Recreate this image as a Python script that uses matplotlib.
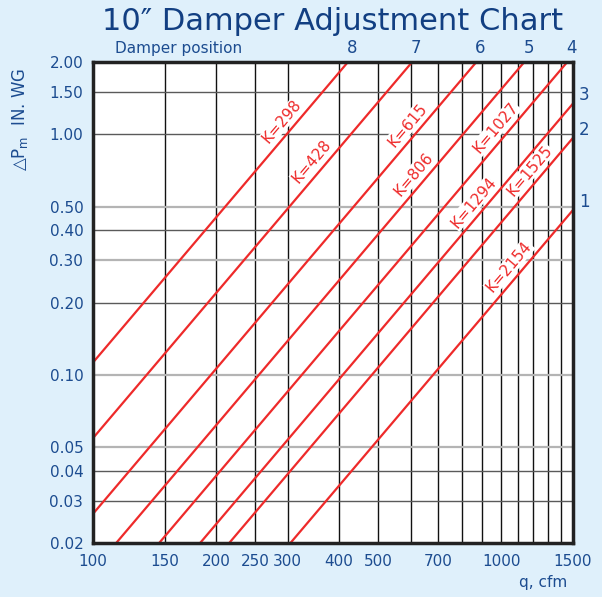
import numpy as np
import matplotlib
matplotlib.use("Agg")
from matplotlib import pyplot as plt

BG = "#dff0fb"
BLUE = "#1c4c90"
TITLE_BLUE = "#123f82"
RED = "#ee2a2a"

# damper constants (q = K * sqrt(dP))
k_values = [298, 428, 615, 806, 1027, 1294, 1525, 2154]
positions = ["8", "7", "6", "5", "4", "3", "2", "1"]
# flow (cfm) along each line where its K label sits
label_q = [306, 362, 620, 643, 1020, 900, 1235, 1100]

x_ticks = [100, 150, 200, 250, 300, 400, 500, 700, 1000, 1500]
x_grid = [150, 200, 250, 300, 400, 500, 600, 700, 800, 900, 1000, 1100, 1200, 1300, 1400]
y_ticks = [0.02, 0.03, 0.04, 0.05, 0.10, 0.20, 0.30, 0.40, 0.50, 1.00, 1.50, 2.00]
y_grid_light = [0.05, 0.10, 0.30, 0.50]
y_grid_dark = [0.03, 0.04, 0.20, 0.40, 1.00, 1.50]

Q_MIN, Q_MAX = 100, 1500
P_MIN, P_MAX = 0.02, 2.0

fig = plt.figure(figsize=(6.02, 5.97), dpi=100, facecolor=BG)
ax = fig.add_axes([93 / 602, 1 - 543 / 597, 480 / 602, 481 / 597])
ax.set_facecolor("white")
ax.set_xscale("log")
ax.set_yscale("log")
ax.set_xlim(Q_MIN, Q_MAX)
ax.set_ylim(P_MIN, P_MAX)

for x in x_grid:
    ax.axvline(x, color="#111111", lw=1.0, zorder=1)
for y in y_grid_light:
    ax.axhline(y, color="#b4b4b4", lw=1.6, zorder=1)
for y in y_grid_dark:
    ax.axhline(y, color="#5a5a5a", lw=1.0, zorder=1)

# angle of the lines on screen
fig.canvas.draw()
p0 = ax.transData.transform((100, 0.1))
p1 = ax.transData.transform((1000, 10.0))
ang = np.degrees(np.arctan2(p1[1] - p0[1], p1[0] - p0[0]))
nx, ny = -np.sin(np.radians(ang)), np.cos(np.radians(ang))

for k, pos, ql in zip(k_values, positions, label_q):
    dp = np.array([P_MIN, P_MAX])
    ax.plot(k * np.sqrt(dp), dp, color=RED, lw=1.6, zorder=3, clip_on=True)

    off = 8.5
    ax.annotate("K=%d" % k, xy=(ql, (ql / k) ** 2), xytext=(nx * off, ny * off),
                textcoords="offset points", rotation=ang, rotation_mode="anchor",
                ha="center", va="center", color=RED, fontsize=11, zorder=4,
                bbox=dict(boxstyle="square,pad=0.05", fc="white", ec="none"))

    q_top = k * np.sqrt(P_MAX)
    if q_top <= Q_MAX:
        ax.annotate(pos, xy=(q_top, P_MAX), xytext=(3, 10), textcoords="offset points",
                    ha="center", va="center", color=BLUE, fontsize=12,
                    annotation_clip=False)
    else:
        dp_right = (Q_MAX / k) ** 2
        ax.annotate(pos, xy=(Q_MAX, dp_right), xytext=(8, 6), textcoords="offset points",
                    ha="center", va="center", color=BLUE, fontsize=12,
                    annotation_clip=False)

ax.set_xticks(x_ticks)
ax.set_xticklabels([str(v) for v in x_ticks])
ax.set_yticks(y_ticks)
ax.set_yticklabels(["%.2f" % v for v in y_ticks])
ax.minorticks_off()
ax.tick_params(axis="both", length=0, labelsize=11, labelcolor=BLUE)
ax.tick_params(axis="x", pad=8)
ax.tick_params(axis="y", pad=7)

for s in ax.spines.values():
    s.set_color("#222222")
    s.set_linewidth(2.5)
    s.set_zorder(5)

fig.text(333 / 602, 1 - 21 / 597, "10\u2033 Damper Adjustment Chart", ha="center", va="center",
         color=TITLE_BLUE, fontsize=22)
fig.text(115 / 602, 1 - 48 / 597, "Damper position", ha="left", va="center",
         color=BLUE, fontsize=11)
fig.text(20 / 602, 1 - 119 / 597, "\u25b3P$_\\mathregular{m}$  IN. WG", rotation=90,
         ha="center", va="center", color=BLUE, fontsize=12)
fig.text(543 / 602, 1 - 583 / 597, "q, cfm", ha="center", va="center",
         color=BLUE, fontsize=11)

fig.savefig("out.png", dpi=100, facecolor=BG)
